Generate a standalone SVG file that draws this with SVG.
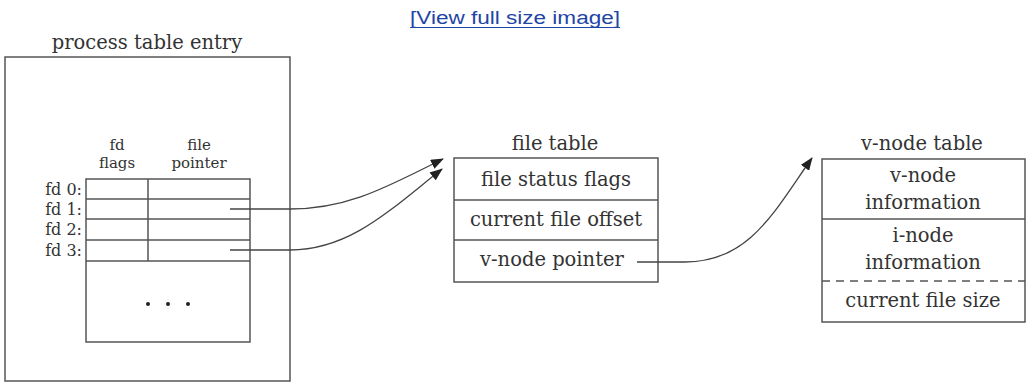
<svg xmlns="http://www.w3.org/2000/svg" width="1026" height="383" viewBox="0 0 1026 383">
<style>
.t{font-family:"DejaVu Serif","Liberation Serif",serif;font-size:19.5px;fill:#333;}
.s{font-family:"DejaVu Serif","Liberation Serif",serif;font-size:16px;fill:#333;}
.h{font-family:"DejaVu Serif","Liberation Serif",serif;font-size:15px;fill:#333;}
.b{fill:none;stroke:#555;stroke-width:1.5;}
.c{fill:none;stroke:#444;stroke-width:1.3;}
.link{font-family:"Liberation Sans",Arial,sans-serif;font-size:18px;fill:#1f45a6;}
</style>
<defs>
<marker id="ah" markerWidth="13" markerHeight="10" refX="12" refY="5" orient="auto" markerUnits="userSpaceOnUse">
<path d="M0,0 L13,5 L0,10 Z" fill="#222"/>
</marker>
</defs>
<g id="link">
<text class="link" x="410" y="24" textLength="210" lengthAdjust="spacingAndGlyphs">[View full size image]</text>
<line x1="410" y1="27.5" x2="620" y2="27.5" stroke="#1f45a6" stroke-width="1"/>
</g>
<g id="process-table-entry">
<text class="t" x="147" y="49" text-anchor="middle">process table entry</text>
<rect class="b" x="5" y="57" width="285" height="324"/>
<text class="h" x="117" y="150" text-anchor="middle">fd</text>
<text class="h" x="117" y="168" text-anchor="middle">flags</text>
<text class="h" x="199" y="150" text-anchor="middle">file</text>
<text class="h" x="199" y="168" text-anchor="middle">pointer</text>
<rect class="b" x="86" y="179" width="164" height="163"/>
<line class="b" x1="86" y1="199" x2="250" y2="199"/>
<line class="b" x1="86" y1="219" x2="250" y2="219"/>
<line class="b" x1="86" y1="240" x2="250" y2="240"/>
<line class="b" x1="86" y1="261" x2="250" y2="261"/>
<line class="b" x1="148" y1="179" x2="148" y2="261"/>
<text class="s" x="82" y="195" text-anchor="end">fd 0:</text>
<text class="s" x="82" y="215" text-anchor="end">fd 1:</text>
<text class="s" x="82" y="235" text-anchor="end">fd 2:</text>
<text class="s" x="82" y="256" text-anchor="end">fd 3:</text>
<circle cx="148" cy="304" r="2" fill="#222"/>
<circle cx="168" cy="304" r="2" fill="#222"/>
<circle cx="188" cy="304" r="2" fill="#222"/>
</g>
<g id="file-table">
<text class="t" x="555" y="150" text-anchor="middle">file table</text>
<rect class="b" x="454" y="158" width="204" height="124"/>
<line class="b" x1="454" y1="200" x2="658" y2="200"/>
<line class="b" x1="454" y1="240" x2="658" y2="240"/>
<text class="t" x="556" y="186" text-anchor="middle">file status flags</text>
<text class="t" x="556" y="226" text-anchor="middle">current file offset</text>
<text class="t" x="480" y="266">v-node pointer</text>
</g>
<g id="vnode-table">
<text class="t" x="922" y="150" text-anchor="middle">v-node table</text>
<rect class="b" x="822" y="159" width="203" height="163"/>
<line class="b" x1="822" y1="219" x2="1025" y2="219"/>
<line class="b" x1="822" y1="281" x2="1025" y2="281" stroke-dasharray="8,6"/>
<text class="t" x="923" y="182" text-anchor="middle">v-node</text>
<text class="t" x="923" y="209" text-anchor="middle">information</text>
<text class="t" x="923" y="242" text-anchor="middle">i-node</text>
<text class="t" x="923" y="269" text-anchor="middle">information</text>
<text class="t" x="923" y="307" text-anchor="middle">current file size</text>
</g>
<g id="connectors">
<path class="c" d="M230,209 L290,209 C350,209 390,185 443,159" marker-end="url(#ah)"/>
<path class="c" d="M230,250 L290,250 C350,250 390,210 442,169" marker-end="url(#ah)"/>
<path class="c" d="M637,262 L685,262 C750,262 775,210 812,158" marker-end="url(#ah)"/>
</g>
</svg>
